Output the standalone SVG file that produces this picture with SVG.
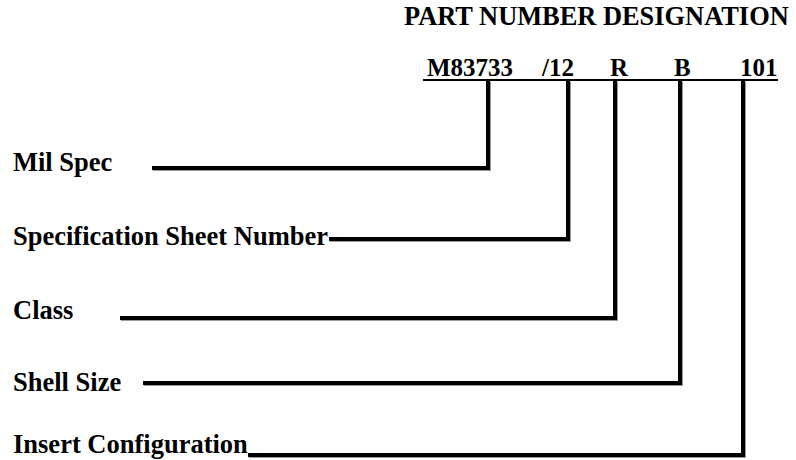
<svg xmlns="http://www.w3.org/2000/svg" width="796" height="460" viewBox="0 0 796 460">
<style>
text{font-family:"Liberation Serif","Times New Roman",serif;font-weight:bold;fill:#000}
.lbl{font-size:26.5px}
.pn{font-size:25px}
.ttl{font-size:26.4px}
.ln{fill:none;stroke:#000;stroke-width:4;stroke-linejoin:miter}
.sh{fill:none;stroke:#9a9a9a;stroke-width:4;stroke-linejoin:miter}
</style>
<rect width="796" height="460" fill="#fff"/>
<g id="title"><text class="ttl" x="404" y="25">PART NUMBER DESIGNATION</text></g>
<g id="partnumber">
<text class="pn" x="427" y="76">M83733</text>
<text class="pn" x="542" y="76">/12</text>
<text class="pn" x="610" y="76">R</text>
<text class="pn" x="674" y="76">B</text>
<text class="pn" x="740" y="76">101</text>
<line x1="423" y1="80" x2="778" y2="80" stroke="#000" stroke-width="2"/>
</g>
<g id="milspec"><text class="lbl" x="13" y="171">Mil Spec</text></g>
<g id="specsheet"><text class="lbl" x="13" y="245">Specification Sheet Number</text></g>
<g id="class"><text class="lbl" x="13" y="319">Class</text></g>
<g id="shellsize"><text class="lbl" x="13" y="391">Shell Size</text></g>
<g id="insert"><text class="lbl" x="13" y="453">Insert Configuration</text></g>
<g id="connectors">
<g transform="translate(1,1)">
<path class="sh" d="M152,168 H488 V81"/>
<path class="sh" d="M329,239 H568 V81"/>
<path class="sh" d="M120,318 H615 V81"/>
<path class="sh" d="M143,383 H680 V81"/>
<path class="sh" d="M248,455 H743 V81"/>
</g>
<path class="ln" d="M152,168 H488 V81"/>
<path class="ln" d="M329,239 H568 V81"/>
<path class="ln" d="M120,318 H615 V81"/>
<path class="ln" d="M143,383 H680 V81"/>
<path class="ln" d="M248,455 H743 V81"/>
</g>
</svg>
